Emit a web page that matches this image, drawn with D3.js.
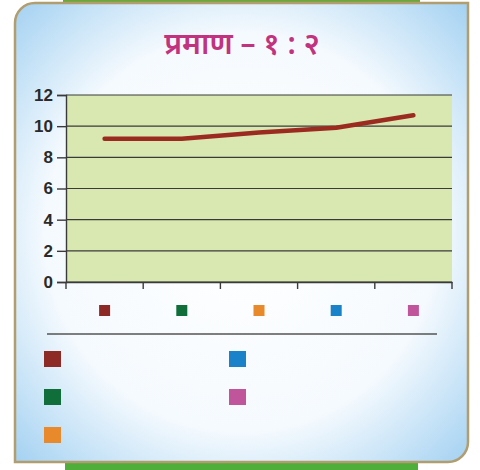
<!DOCTYPE html>
<html>
<head>
<meta charset="utf-8">
<script src="https://cdn.jsdelivr.net/npm/d3@7"></script>
<style>
  body { margin: 0; background: #fff; }
  svg { display: block; }
  .tick text { font-family: "Liberation Sans Narrow", "Liberation Sans", Arial, sans-serif; font-weight: bold; font-size: 17px; fill: #2a2a2a; }
</style>
</head>
<body>
<div id="chart"></div>
<script>
const categories = ['a', 'b', 'c', 'd', 'e']
const values = [9.2, 9.2, 9.6, 9.9, 10.7]
const yTicks = [0, 2, 4, 6, 8, 10, 12]
const swatchColors = ['#8e2a26', '#0f6e3a', '#e8892b', '#1a82c9', '#c0559b']
const title = 'प्रमाण – १ : २'

const width = 480
const height = 470
const margin = { top: 95, left: 66, right: 28, bottom: 188 }

const svg = d3.select('#chart').append('svg')
  .attr('width', width)
  .attr('height', height)

const defs = svg.append('defs')
const bg = defs.append('radialGradient')
  .attr('id', 'bgGrad')
  .attr('cx', '50%').attr('cy', '50%').attr('r', '72%')
bg.append('stop').attr('offset', '0%').attr('stop-color', '#ffffff')
bg.append('stop').attr('offset', '60%').attr('stop-color', '#f5fafe')
bg.append('stop').attr('offset', '100%').attr('stop-color', '#9fcff1')

// green strips behind the card
svg.append('rect').attr('x', 63).attr('y', 0).attr('width', 357).attr('height', 6).attr('fill', '#6aa83c')
svg.append('rect').attr('x', 65).attr('y', 458).attr('width', 353).attr('height', 12).attr('fill', '#4fae3a')

// card frame: rounded top-left and bottom-right corners
const fx0 = 15, fy0 = 3, fx1 = 468, fy1 = 462, rr = 20
const frame = d3.path()
frame.moveTo(fx0, fy0 + rr)
frame.arcTo(fx0, fy0, fx0 + rr, fy0, rr)
frame.lineTo(fx1, fy0)
frame.lineTo(fx1, fy1 - rr)
frame.arcTo(fx1, fy1, fx1 - rr, fy1, rr)
frame.lineTo(fx0, fy1)
frame.closePath()
svg.append('path')
  .attr('d', frame.toString())
  .attr('fill', 'url(#bgGrad)')
  .attr('stroke', '#b19d6e')
  .attr('stroke-width', 2.5)

svg.append('text')
  .attr('x', 242)
  .attr('y', 54)
  .attr('text-anchor', 'middle')
  .attr('font-family', '"Noto Sans", "Noto Sans Devanagari", sans-serif')
  .attr('font-size', 30)
  .attr('font-weight', 600)
  .attr('fill', '#c2337f')
  .text(title)

const x = d3.scaleBand()
  .domain(categories)
  .range([margin.left, width - margin.right])

const y = d3.scaleLinear()
  .domain([0, 12])
  .range([height - margin.bottom, margin.top])

svg.append('rect')
  .attr('x', margin.left)
  .attr('y', y(12))
  .attr('width', x.range()[1] - margin.left)
  .attr('height', y(0) - y(12))
  .attr('fill', '#d9e8b0')

// gridlines
svg.append('g')
  .selectAll('line')
  .data(yTicks)
  .join('line')
  .attr('x1', margin.left)
  .attr('x2', width - margin.right)
  .attr('y1', d => y(d))
  .attr('y2', d => y(d))
  .attr('stroke', '#3a3a3a')
  .attr('stroke-width', 1.2)

const yAxis = svg.append('g')
  .attr('transform', `translate(${margin.left},0)`)
  .call(d3.axisLeft(y).tickValues(yTicks).tickSize(9).tickPadding(4))
yAxis.selectAll('line, path').attr('stroke', '#3a3a3a').attr('stroke-width', 1.4)

const xAxis = svg.append('g')
  .attr('transform', `translate(0,${y(0)})`)
  .call(d3.axisBottom(x).tickSize(0).tickFormat(''))
xAxis.select('.domain').attr('stroke', '#3a3a3a').attr('stroke-width', 1.4)

// band boundary ticks
const bounds = categories.map(c => x(c)).concat([x.range()[1]])
svg.append('g')
  .selectAll('line')
  .data(bounds)
  .join('line')
  .attr('x1', d => d)
  .attr('x2', d => d)
  .attr('y1', y(0))
  .attr('y2', y(0) + 7)
  .attr('stroke', '#3a3a3a')
  .attr('stroke-width', 1.4)

const line = d3.line()
  .x((d, i) => x(categories[i]) + x.bandwidth() / 2)
  .y(d => y(d))

svg.append('path')
  .datum(values)
  .attr('d', line)
  .attr('fill', 'none')
  .attr('stroke', '#9b2b20')
  .attr('stroke-width', 4.5)
  .attr('stroke-linecap', 'round')
  .attr('stroke-linejoin', 'round')

// small swatches under the categories
svg.append('g')
  .selectAll('rect')
  .data(categories)
  .join('rect')
  .attr('x', d => x(d) + x.bandwidth() / 2 - 5.5)
  .attr('y', 305)
  .attr('width', 11)
  .attr('height', 11)
  .attr('fill', (d, i) => swatchColors[i])

svg.append('line')
  .attr('x1', 47).attr('x2', 437)
  .attr('y1', 334).attr('y2', 334)
  .attr('stroke', '#555')
  .attr('stroke-width', 1.5)

// legend
const legendCol = d3.scalePoint().domain([0, 1]).range([44, 229])
const legendRow = d3.scalePoint().domain([0, 1, 2]).range([351, 427])
svg.append('g')
  .selectAll('rect')
  .data(swatchColors)
  .join('rect')
  .attr('x', (d, i) => legendCol(Math.floor(i / 3)))
  .attr('y', (d, i) => legendRow(i % 3))
  .attr('width', 17)
  .attr('height', 16)
  .attr('fill', d => d)
</script>
</body>
</html>
